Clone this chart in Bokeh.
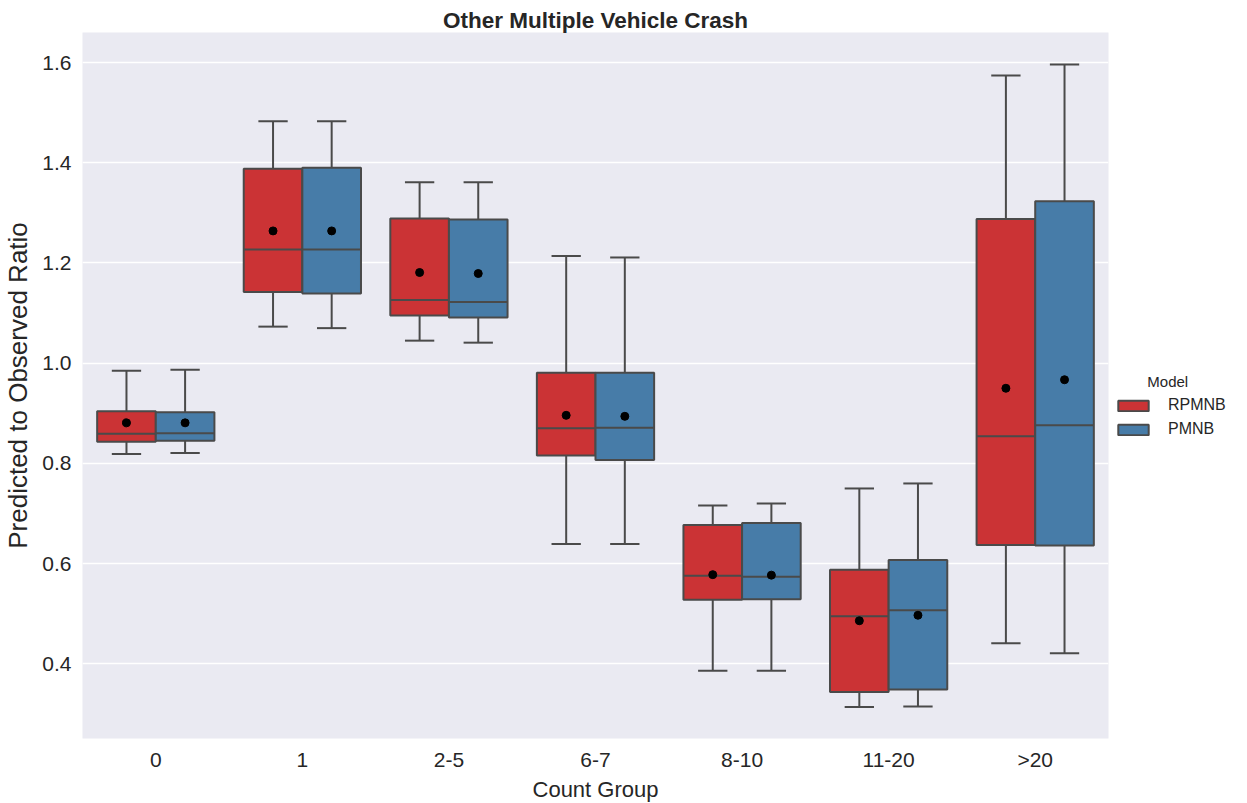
from bokeh.plotting import figure
from bokeh.models import (ColumnDataSource, FactorRange, Range1d, FixedTicker,
                          Legend, LegendItem, NumeralTickFormatter)
from bokeh.transform import dodge
from bokeh.embed import file_html
from bokeh.resources import INLINE

# Count groups on the x axis
categories = ["0", "1", "2-5", "6-7", "8-10", "11-20", ">20"]

# RPMNB box statistics (whisker low, Q1, median, Q3, whisker high, mean)
rpmnb_low = [0.819, 1.073, 1.045, 0.639, 0.386, 0.314, 0.441]
rpmnb_q1 = [0.843, 1.142, 1.095, 0.816, 0.528, 0.344, 0.637]
rpmnb_median = [0.859, 1.227, 1.126, 0.870, 0.576, 0.495, 0.854]
rpmnb_q3 = [0.904, 1.388, 1.289, 0.981, 0.677, 0.588, 1.288]
rpmnb_high = [0.985, 1.483, 1.361, 1.214, 0.716, 0.750, 1.574]
rpmnb_mean = [0.881, 1.264, 1.181, 0.896, 0.578, 0.486, 0.950]

# PMNB box statistics
pmnb_low = [0.821, 1.070, 1.041, 0.639, 0.386, 0.315, 0.421]
pmnb_q1 = [0.845, 1.139, 1.091, 0.807, 0.529, 0.349, 0.636]
pmnb_median = [0.860, 1.227, 1.122, 0.871, 0.574, 0.507, 0.876]
pmnb_q3 = [0.902, 1.390, 1.287, 0.981, 0.681, 0.607, 1.323]
pmnb_high = [0.987, 1.483, 1.361, 1.211, 0.720, 0.760, 1.596]
pmnb_mean = [0.881, 1.264, 1.179, 0.894, 0.577, 0.497, 0.967]

y_ticks = [0.4, 0.6, 0.8, 1.0, 1.2, 1.4, 1.6]

FONT = "Liberation Sans"
TEXT = "#262626"
EDGE = "#4a4a4a"
BG = "#EAEAF2"

p = figure(
    frame_width=1026, frame_height=706,
    x_range=FactorRange(*categories, range_padding=0),
    y_range=Range1d(0.251, 1.660),
    output_backend="svg", toolbar_location=None,
    min_border_left=82, min_border_right=139,
    min_border_top=32, min_border_bottom=64,
    background_fill_color=BG, border_fill_color="white",
    outline_line_color=None,
)

p.title.text = "Other Multiple Vehicle Crash"
p.title.align = "center"
p.title.text_font = FONT
p.title.text_font_size = "22.5px"
p.title.text_font_style = "bold"
p.title.text_color = TEXT
p.title.standoff = 0
p.title.offset = 0

# grid: white horizontal lines only
p.xgrid.grid_line_color = None
p.ygrid.grid_line_color = "white"
p.ygrid.grid_line_width = 1.5
p.yaxis.ticker = FixedTicker(ticks=y_ticks)
p.yaxis.formatter = NumeralTickFormatter(format="0.0")

for ax in (p.xaxis, p.yaxis):
    ax.axis_line_color = None
    ax.major_tick_line_color = None
    ax.minor_tick_line_color = None
    ax.major_tick_out = 0
    ax.major_tick_in = 0
    ax.minor_tick_out = 0
    ax.minor_tick_in = 0
    ax.major_label_text_font = FONT
    ax.major_label_text_font_size = "21px"
    ax.major_label_text_color = TEXT
    ax.axis_label_text_font = FONT
    ax.axis_label_text_font_style = "normal"
    ax.axis_label_text_color = TEXT

p.xaxis.axis_label = "Count Group"
p.yaxis.axis_label = "Predicted to Observed Ratio"
p.xaxis.axis_label_text_font_size = "22px"
p.yaxis.axis_label_text_font_size = "26px"
p.xaxis.major_label_standoff = 9
p.yaxis.major_label_standoff = 11
p.xaxis.axis_label_standoff = 3
p.yaxis.axis_label_standoff = 6

series = [
    ("RPMNB", "#CB3335", -0.2,
     rpmnb_low, rpmnb_q1, rpmnb_median, rpmnb_q3, rpmnb_high, rpmnb_mean),
    ("PMNB", "#477CA8", 0.2,
     pmnb_low, pmnb_q1, pmnb_median, pmnb_q3, pmnb_high, pmnb_mean),
]

legend_items = []
for name, color, offset, low, q1, med, q3, high, mean in series:
    src = ColumnDataSource(dict(cat=categories, low=low, q1=q1, med=med,
                                q3=q3, high=high, mean=mean))
    xc = dodge("cat", offset, range=p.x_range)
    xl = dodge("cat", offset - 0.2, range=p.x_range)
    xr = dodge("cat", offset + 0.2, range=p.x_range)
    cl = dodge("cat", offset - 0.1, range=p.x_range)
    cr = dodge("cat", offset + 0.1, range=p.x_range)

    # whiskers and caps
    p.segment(x0=xc, x1=xc, y0="q3", y1="high", source=src,
              line_color=EDGE, line_width=2)
    p.segment(x0=xc, x1=xc, y0="low", y1="q1", source=src,
              line_color=EDGE, line_width=2)
    p.segment(x0=cl, x1=cr, y0="high", y1="high", source=src,
              line_color=EDGE, line_width=2)
    p.segment(x0=cl, x1=cr, y0="low", y1="low", source=src,
              line_color=EDGE, line_width=2)

    # interquartile boxes
    box = p.vbar(x=xc, width=0.4, bottom="q1", top="q3", source=src,
                 fill_color=color, line_color=EDGE, line_width=2)

    # medians
    p.segment(x0=xl, x1=xr, y0="med", y1="med", source=src,
              line_color=EDGE, line_width=2)

    # means
    p.scatter(x=xc, y="mean", source=src, size=8, marker="circle",
              fill_color="black", line_color="black")

    legend_items.append(LegendItem(label=name, renderers=[box]))

# heading indented with no-break spaces so it sits centred over the entries
legend = Legend(items=legend_items, location=(6, 300),
                title="\u00a0" * 8 + "Model")
legend.margin = 0
legend.padding = 10
legend.glyph_width = 38
legend.glyph_height = 13
legend.label_standoff = 16
legend.spacing = 6
legend.label_text_font = FONT
legend.label_text_font_size = "16px"
legend.label_text_color = TEXT
legend.title_text_font = FONT
legend.title_text_font_size = "15px"
legend.title_text_font_style = "normal"
legend.title_text_color = TEXT
legend.title_standoff = 6
legend.border_line_color = None
legend.background_fill_alpha = 0
p.add_layout(legend, "right")

open("out.html", "w").write(file_html(p, INLINE))
